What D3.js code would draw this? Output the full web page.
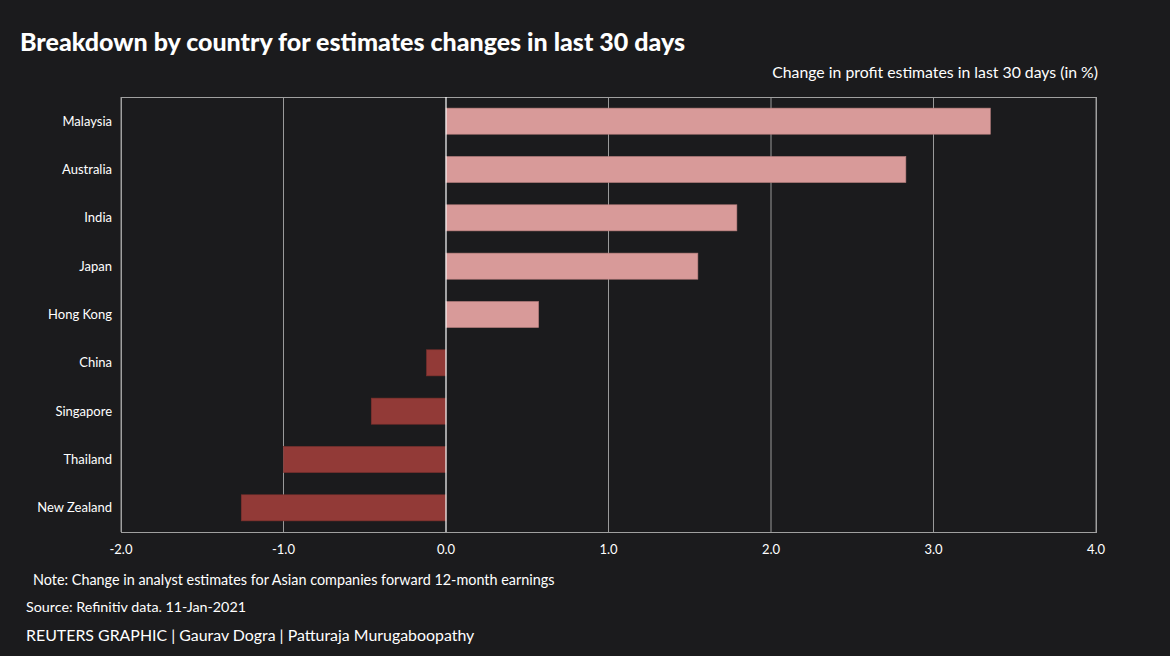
<!DOCTYPE html>
<html>
<head>
<meta charset="utf-8">
<script src="https://cdn.jsdelivr.net/npm/d3@7"></script>
<style>
  html, body { margin: 0; padding: 0; background: #1b1b1d; }
  svg { display: block; font-family: Lato, "Open Sans", sans-serif; }
</style>
</head>
<body>
<svg id="chart" width="1170" height="656"></svg>
<script>
// chart data
const countries = ['Malaysia', 'Australia', 'India', 'Japan', 'Hong Kong', 'China', 'Singapore', 'Thailand', 'New Zealand'];
const changes = [3.35, 2.83, 1.79, 1.55, 0.57, -0.12, -0.46, -1.0, -1.26];
const xTicks = [-2, -1, 0, 1, 2, 3, 4];

const width = 1170;
const height = 656;
const margin = { top: 97, right: 74, bottom: 124, left: 121 };

const svg = d3.select('#chart');

svg.append('rect')
    .attr('width', width)
    .attr('height', height)
    .attr('fill', '#1b1b1d');

const x = d3.scaleLinear()
    .domain([-2, 4])
    .range([margin.left, width - margin.right]);

const y = d3.scaleBand()
    .domain(countries)
    .range([margin.top, height - margin.bottom])
    .paddingInner(0.46)
    .paddingOuter(0.23);

// title + subtitle
svg.append('text')
    .attr('x', 20)
    .attr('y', 51)
    .attr('fill', '#ffffff')
    .style('font-size', '25px')
    .style('font-weight', 900)
    .text('Breakdown by country for estimates changes in last 30 days');

svg.append('text')
    .attr('x', 1098)
    .attr('y', 78)
    .attr('text-anchor', 'end')
    .attr('fill', '#ffffff')
    .style('font-size', '15.8px')
    .text('Change in profit estimates in last 30 days (in %)');

// gridlines
svg.append('g')
    .selectAll('line')
    .data(xTicks.filter(d => d !== 0))
    .enter()
    .append('line')
    .attr('x1', d => x(d))
    .attr('x2', d => x(d))
    .attr('y1', margin.top)
    .attr('y2', height - margin.bottom)
    .attr('stroke', '#9a9a9a')
    .attr('stroke-width', 1);

// plot border
svg.append('rect')
    .attr('x', margin.left + 0.5)
    .attr('y', margin.top + 0.5)
    .attr('width', width - margin.right - margin.left)
    .attr('height', height - margin.bottom - margin.top)
    .attr('fill', 'none')
    .attr('stroke', '#a0a0a0')
    .attr('stroke-width', 1);

// bars
svg.append('g')
    .selectAll('rect')
    .data(countries)
    .enter()
    .append('rect')
    .attr('x', (d, i) => x(Math.min(0, changes[i])))
    .attr('y', d => y(d))
    .attr('width', (d, i) => Math.abs(x(changes[i]) - x(0)))
    .attr('height', y.bandwidth())
    .attr('fill', (d, i) => changes[i] >= 0 ? '#d89a99' : '#923a37')
    .attr('stroke', (d, i) => changes[i] >= 0 ? '#b47d7c' : '#7a302d')
    .attr('stroke-width', 0.6);

// zero line
svg.append('line')
    .attr('x1', x(0))
    .attr('x2', x(0))
    .attr('y1', margin.top)
    .attr('y2', height - margin.bottom)
    .attr('stroke', '#ffffff')
    .attr('stroke-width', 1.2);

// y labels
svg.append('g')
    .selectAll('text')
    .data(countries)
    .enter()
    .append('text')
    .attr('x', 112)
    .attr('y', d => y(d) + y.bandwidth() / 2)
    .attr('dy', '0.35em')
    .attr('text-anchor', 'end')
    .attr('fill', '#ffffff')
    .style('font-size', '13px')
    .text(d => d);

// x tick labels (plain hyphen minus like the original)
svg.append('g')
    .selectAll('text')
    .data(xTicks)
    .enter()
    .append('text')
    .attr('x', d => x(d))
    .attr('y', 554)
    .attr('text-anchor', 'middle')
    .attr('fill', '#ffffff')
    .style('font-size', '13px')
    .text(d => d.toFixed(1));

// footer
const footer = [
    { text: 'Note: Change in analyst estimates for Asian companies forward 12-month earnings', x: 33, y: 585, size: 14.4 },
    { text: 'Source: Refinitiv data. 11-Jan-2021', x: 26, y: 612, size: 14.3 },
    { text: 'REUTERS GRAPHIC | Gaurav Dogra | Patturaja Murugaboopathy', x: 26, y: 641, size: 15.9 }
];

svg.append('g')
    .selectAll('text')
    .data(footer)
    .enter()
    .append('text')
    .attr('x', d => d.x)
    .attr('y', d => d.y)
    .attr('fill', '#ffffff')
    .style('font-size', d => d.size + 'px')
    .text(d => d.text);
</script>
</body>
</html>
